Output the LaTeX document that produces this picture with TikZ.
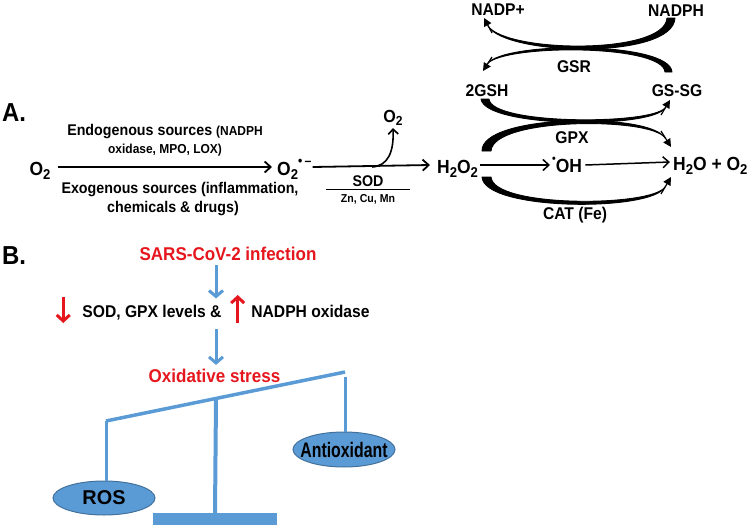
\documentclass[tikz,border=0pt]{standalone}
\usepackage{fontspec}
\setmainfont{Liberation Sans}[FakeStretch=0.92]
\usetikzlibrary{arrows.meta,calc,shapes.geometric}
\definecolor{sblue}{HTML}{5B9BD5}
\definecolor{sblueb}{HTML}{41719C}
\definecolor{sred}{HTML}{E5161D}
\newcommand\myfs[1]{\fontsize{#1}{#1}\selectfont\bfseries}
\newcommand\sub[1]{\raisebox{-0.22em}{\scalebox{0.75}{#1}}}
\newcommand\suprad{\raisebox{0.5em}{\scalebox{0.7}{•\,–}}}
\begin{document}
\begin{tikzpicture}[x=1pt,y=-1pt,
  every node/.style={inner sep=0pt, anchor=base},
  tA/.style={font=\myfs{15.5}},
  tS/.style={font=\myfs{13}},
  tL/.style={font=\myfs{17}},
  tC/.style={font=\myfs{19}},
  tH/.style={font=\myfs{26}},
  tR/.style={font=\myfs{18.5}, text=sred},
  karrow/.style={line width=1.8pt, -{Straight Barb[length=6pt,width=11pt]}},
  barrow/.style={line width=3pt, draw=sblue, -{Straight Barb[length=6pt,width=14pt]}},
  rarrow/.style={line width=3pt, draw=sred, -{Straight Barb[length=6pt,width=13pt]}},
  tip/.style={line width=1.2pt, -{Triangle[length=8pt,width=8pt]}},
  taper/.style={fill=black, draw=black, line width=0.9pt, line join=round},
  bal/.style={line width=3.5pt, draw=sblue},
  pan/.style={ellipse, draw=sblueb, fill=sblue, line width=1pt, anchor=center, minimum width=102pt, minimum height=34pt}
]
\useasboundingbox (0,0) rectangle (748,525);

% ---------- Part A ----------
\node[tH, anchor=base west] (labA) at (2,121) {A.};
\node[tC] (o2a) at (40,175) {O\sub{2}};
\node[tA] (endo1) at (165,135) {Endogenous sources {\myfs{13}(NADPH}};
\node[tS] (endo2) at (165,153) {oxidase, MPO, LOX)};
\node[tA] (exo1) at (180,193) {Exogenous sources (inflammation,};
\node[tA] (exo2) at (173,212) {chemicals \& drugs)};
\node[tC, anchor=base west] (o2b) at (277,175) {O\sub{2}\suprad};
\draw[karrow] ([xshift=7pt,yshift=8pt]o2a.base east) -- ([xshift=-5pt,yshift=8pt]o2b.base west);

\node[tC, anchor=base west] (h2o2) at (437,173) {H\sub{2}O\sub{2}};
\node[tC, anchor=base west] (oh) at (552,172) {\raisebox{0.5em}{\scalebox{0.6}{•}}OH};
\node[tC, anchor=base west] (h2o) at (673,170) {H\sub{2}O + O\sub{2}};
\draw[karrow] ([xshift=1pt,yshift=8pt]o2b.base east) -- ([xshift=-7pt,yshift=8pt]h2o2.base west);

\node[font=\myfs{17.5}] (o2c) at (393,122) {O\sub{2}};
\coordinate (brs) at (372,167);
\draw[line width=1.6pt, -{Straight Barb[length=5pt,width=10pt]}] (brs) .. controls (388,166) and (394,152) .. ([yshift=-2pt]o2c.south);

\node[tA] (sod) at (368,186) {SOD};
\draw[line width=0.8pt] ([xshift=-42pt,yshift=-3pt]sod.base) -- ([xshift=42pt,yshift=-3pt]sod.base);
\node[font=\myfs{11.5}] (zn) at (368,202) {Zn, Cu, Mn};

\draw[karrow, line width=1.5pt] ([xshift=2pt,yshift=8pt]h2o2.base east) -- ([xshift=-2pt,yshift=7pt]oh.base west);
\draw[karrow, line width=1.5pt] ([xshift=3pt,yshift=7pt]oh.base east) -- ([xshift=-3pt,yshift=8pt]h2o.base west);

\node[tL] (nadpp) at (498,15) {NADP+};
\node[tL] (nadph) at (676,16) {NADPH};
\node[tL] (gsr) at (574,72) {GSR};
\node[tL] (gsh) at (487,96) {2GSH};
\node[tL] (gssg) at (677,96) {GS-SG};
\node[tL] (gpx) at (572,143) {GPX};
\node[tL] (cat) at (575,219) {CAT (Fe)};

% tapered curved arrows
\filldraw[taper] (675,18) .. controls (673,60) and (505,56) .. (488,26) .. controls (507,53) and (665,55) .. (667,18) -- cycle;
\draw[tip] (492,33) -- (484,18);
\filldraw[taper] (672,72) .. controls (670,41) and (503,41) .. (487,64) .. controls (504,44) and (663,44) .. (665,72) -- cycle;
\draw[tip] (492,57) -- (483,71);
\filldraw[taper] (481,99) .. controls (485,128) and (652,129) .. (665,108) .. controls (650,125) and (491,125) .. (489,99) -- cycle;
\draw[tip] (661,115) -- (670,100);
\filldraw[taper] (482,151) .. controls (481,114) and (650,112) .. (665,138) .. controls (652,117) and (493,117) .. (491,151) -- cycle;
\draw[tip] (661,131) -- (671,147);
\filldraw[taper] (482,177) .. controls (484,211) and (652,212) .. (665,187) .. controls (652,207) and (493,208) .. (491,177) -- cycle;
\draw[tip] (661,194) -- (671,177);

% ---------- Part B ----------
\node[tH, anchor=base west] (labB) at (2,264) {B.};
\node[tR] (sars) at (228,260) {SARS-CoV-2 infection};
\node[tL] (sod2) at (152,317) {SOD, GPX levels \&};
\node[tL] (nox) at (310.5,317) {NADPH oxidase};
\node[tR] (ox) at (214.5,382) {Oxidative stress};
\coordinate (piv) at (216,399);
\draw[barrow] ([yshift=-5pt]sars.south -| piv) -- ([yshift=6pt]sod2.north -| piv);
\draw[barrow] ([yshift=-9pt]sod2.south -| piv) -- ([yshift=3.5pt]ox.north -| piv);
\draw[rarrow] ([xshift=-19pt,yshift=20pt]sod2.base west) -- ([xshift=-19pt,yshift=-6pt]sod2.base west);
\draw[rarrow] ([xshift=-13.5pt,yshift=-6pt]nox.base west) -- ([xshift=-13.5pt,yshift=22pt]nox.base west);

\coordinate (bl) at (106,421);
\coordinate (br) at (345,372);
\node[fill=sblue, minimum width=124pt, minimum height=12pt, anchor=north] (base) at (215,513) {};
\node[pan] (ros) at (104,498) {};
\node[anchor=center, font=\myfs{20}] at (ros) {\scalebox{1.08}[1]{ROS}};
\node[pan, minimum height=35pt] (anti) at (344,449.5) {};
\node[anchor=center, font=\myfs{21}] at (anti) {\scalebox{0.82}[1]{Antioxidant}};
\draw[bal] (bl) -- (br);
\draw[bal, line width=4pt] (piv) -- (base.north);
\draw[bal, line width=3pt] (bl) -- (bl |- ros.north);
\draw[bal, line width=3pt] ([yshift=-5pt]br) -- (br |- anti.north);
\end{tikzpicture}
\end{document}
